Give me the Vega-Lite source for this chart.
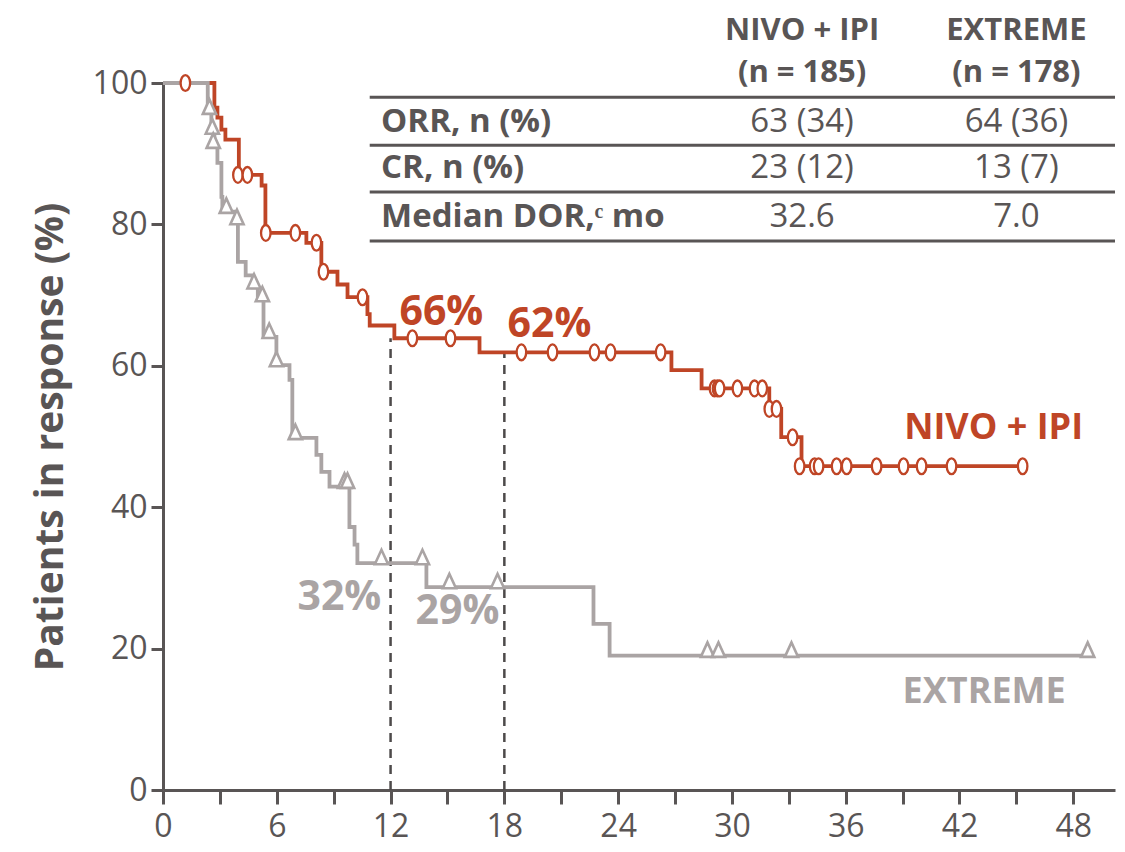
{
  "$schema": "https://vega.github.io/schema/vega-lite/v6.json",
  "width": 952,
  "height": 707,
  "autosize": {"type": "none"},
  "padding": {"left": 163, "top": 83, "right": 10, "bottom": 62},
  "background": "white",
  "config": {
    "font": "Open Sans",
    "view": {"stroke": null},
    "axis": {
      "grid": false,
      "domainColor": "#595555",
      "domainWidth": 3,
      "tickColor": "#595555",
      "tickWidth": 3,
      "labelColor": "#595555",
      "labelFontSize": 32,
      "labelFont": "Open Sans",
      "titleColor": "#595555",
      "titleFont": "Open Sans"
    }
  },
  "datasets": {
    "km": [
      {"arm": "NIVO + IPI", "t": 0, "s": 100},
      {"arm": "NIVO + IPI", "t": 2.71, "s": 96.5},
      {"arm": "NIVO + IPI", "t": 2.87, "s": 95.1},
      {"arm": "NIVO + IPI", "t": 3.08, "s": 93.4},
      {"arm": "NIVO + IPI", "t": 3.29, "s": 92.0},
      {"arm": "NIVO + IPI", "t": 4.0, "s": 87.0},
      {"arm": "NIVO + IPI", "t": 5.2, "s": 85.5},
      {"arm": "NIVO + IPI", "t": 5.4, "s": 78.8},
      {"arm": "NIVO + IPI", "t": 7.56, "s": 77.4},
      {"arm": "NIVO + IPI", "t": 8.35, "s": 73.3},
      {"arm": "NIVO + IPI", "t": 9.2, "s": 71.5},
      {"arm": "NIVO + IPI", "t": 9.73, "s": 69.7},
      {"arm": "NIVO + IPI", "t": 10.78, "s": 67.3},
      {"arm": "NIVO + IPI", "t": 10.9, "s": 65.7},
      {"arm": "NIVO + IPI", "t": 12.2, "s": 63.9},
      {"arm": "NIVO + IPI", "t": 16.69, "s": 61.9},
      {"arm": "NIVO + IPI", "t": 26.81, "s": 59.4},
      {"arm": "NIVO + IPI", "t": 28.4, "s": 56.8},
      {"arm": "NIVO + IPI", "t": 31.97, "s": 53.9},
      {"arm": "NIVO + IPI", "t": 32.6, "s": 49.9},
      {"arm": "NIVO + IPI", "t": 33.67, "s": 45.8},
      {"arm": "NIVO + IPI", "t": 45.33, "s": 45.8},
      {"arm": "EXTREME", "t": 0, "s": 100},
      {"arm": "EXTREME", "t": 2.36, "s": 95.8},
      {"arm": "EXTREME", "t": 2.55, "s": 93.0},
      {"arm": "EXTREME", "t": 2.71, "s": 91.0},
      {"arm": "EXTREME", "t": 2.87, "s": 88.7},
      {"arm": "EXTREME", "t": 3.08, "s": 83.9},
      {"arm": "EXTREME", "t": 3.13, "s": 81.8},
      {"arm": "EXTREME", "t": 3.84, "s": 80.2},
      {"arm": "EXTREME", "t": 3.95, "s": 74.7},
      {"arm": "EXTREME", "t": 4.36, "s": 72.8},
      {"arm": "EXTREME", "t": 4.73, "s": 71.1},
      {"arm": "EXTREME", "t": 5.0, "s": 69.3},
      {"arm": "EXTREME", "t": 5.3, "s": 64.1},
      {"arm": "EXTREME", "t": 5.98, "s": 60.1},
      {"arm": "EXTREME", "t": 6.67, "s": 58.0},
      {"arm": "EXTREME", "t": 6.82, "s": 49.8},
      {"arm": "EXTREME", "t": 8.09, "s": 47.4},
      {"arm": "EXTREME", "t": 8.35, "s": 45.0},
      {"arm": "EXTREME", "t": 8.78, "s": 42.9},
      {"arm": "EXTREME", "t": 9.83, "s": 37.2},
      {"arm": "EXTREME", "t": 10.1, "s": 34.7},
      {"arm": "EXTREME", "t": 10.25, "s": 32.1},
      {"arm": "EXTREME", "t": 13.89, "s": 28.7},
      {"arm": "EXTREME", "t": 22.7, "s": 23.5},
      {"arm": "EXTREME", "t": 23.55, "s": 19.0},
      {"arm": "EXTREME", "t": 48.76, "s": 19.0}
    ],
    "censorNivo": [
      {"t": 1.18, "s": 100}, {"t": 3.95, "s": 87.0}, {"t": 4.45, "s": 87.0},
      {"t": 5.42, "s": 78.8}, {"t": 6.98, "s": 78.8}, {"t": 8.09, "s": 77.4},
      {"t": 8.46, "s": 73.3}, {"t": 10.52, "s": 69.7}, {"t": 13.15, "s": 63.9},
      {"t": 15.16, "s": 63.9}, {"t": 18.9, "s": 61.9}, {"t": 20.54, "s": 61.9},
      {"t": 22.75, "s": 61.9}, {"t": 23.6, "s": 61.9}, {"t": 26.24, "s": 61.9},
      {"t": 29.08, "s": 56.8}, {"t": 29.24, "s": 56.8}, {"t": 29.35, "s": 56.8},
      {"t": 30.29, "s": 56.8}, {"t": 31.19, "s": 56.8}, {"t": 31.6, "s": 56.8},
      {"t": 31.97, "s": 53.9}, {"t": 32.35, "s": 53.9}, {"t": 33.2, "s": 49.9},
      {"t": 33.57, "s": 45.8}, {"t": 34.36, "s": 45.8}, {"t": 34.57, "s": 45.8},
      {"t": 35.52, "s": 45.8}, {"t": 36.05, "s": 45.8}, {"t": 37.63, "s": 45.8},
      {"t": 39.05, "s": 45.8}, {"t": 40.0, "s": 45.8}, {"t": 41.58, "s": 45.8},
      {"t": 45.33, "s": 45.8}
    ],
    "censorExtreme": [
      {"t": 2.45, "s": 95.8}, {"t": 2.6, "s": 93.0}, {"t": 2.65, "s": 91.0},
      {"t": 3.34, "s": 81.8}, {"t": 3.9, "s": 80.2}, {"t": 4.8, "s": 71.1},
      {"t": 5.24, "s": 69.3}, {"t": 5.6, "s": 64.1}, {"t": 5.98, "s": 60.1},
      {"t": 6.98, "s": 49.8}, {"t": 9.57, "s": 42.9}, {"t": 9.73, "s": 42.9},
      {"t": 11.52, "s": 32.1}, {"t": 13.68, "s": 32.1}, {"t": 15.1, "s": 28.7},
      {"t": 17.64, "s": 28.7}, {"t": 28.71, "s": 19.0}, {"t": 29.29, "s": 19.0},
      {"t": 33.14, "s": 19.0}, {"t": 48.76, "s": 19.0}
    ],
    "landmarks": [
      {"t": 12, "s": 0, "s2": 63.9},
      {"t": 18, "s": 0, "s2": 61.9}
    ],
    "labelsNivo": [
      {"t": 14.68, "s": 67.5, "text": "66%"},
      {"t": 20.38, "s": 65.8, "text": "62%"}
    ],
    "labelsExtreme": [
      {"t": 9.3, "s": 27.2, "text": "32%"},
      {"t": 15.53, "s": 25.2, "text": "29%"}
    ],
    "armNivo": [{"t": 43.8, "s": 51.2, "text": "NIVO + IPI"}],
    "armExtreme": [{"t": 43.3, "s": 13.9, "text": "EXTREME"}],
    "tableRules": [
      {"t": 10.9, "t2": 50.2, "s": 98.0},
      {"t": 10.9, "t2": 50.2, "s": 91.2},
      {"t": 10.9, "t2": 50.2, "s": 84.6},
      {"t": 10.9, "t2": 50.2, "s": 77.65}
    ],
    "tableHeader": [
      {"t": 33.7, "s": 107.4, "text": "NIVO + IPI"},
      {"t": 33.7, "s": 101.4, "text": "(n = 185)"},
      {"t": 45.0, "s": 107.4, "text": "EXTREME"},
      {"t": 45.0, "s": 101.4, "text": "(n = 178)"}
    ],
    "tableRowLabels": [
      {"t": 11.5, "s": 94.5, "text": "ORR, n (%)"},
      {"t": 11.5, "s": 88.0, "text": "CR, n (%)"},
      {"t": 11.5, "s": 81.0, "text": "Median DOR,ᶜ mo"}
    ],
    "tableValues": [
      {"t": 33.7, "s": 94.5, "text": "63 (34)"},
      {"t": 33.7, "s": 88.0, "text": "23 (12)"},
      {"t": 33.7, "s": 81.0, "text": "32.6"},
      {"t": 45.0, "s": 94.5, "text": "64 (36)"},
      {"t": 45.0, "s": 88.0, "text": "13 (7)"},
      {"t": 45.0, "s": 81.0, "text": "7.0"}
    ]
  },
  "encoding": {
    "x": {
      "field": "t",
      "type": "quantitative",
      "title": null,
      "scale": {"domain": [0, 50.2], "nice": false, "zero": false},
      "axis": {
        "values": [0, 3, 6, 9, 12, 15, 18, 21, 24, 27, 30, 33, 36, 39, 42, 45, 48],
        "labelExpr": "datum.value % 6 === 0 ? datum.label : ''",
        "tickSize": 14,
        "labelPadding": 7,
        "labelFlush": false,
        "labelOverlap": false
      }
    },
    "y": {
      "field": "s",
      "type": "quantitative",
      "title": "Patients in response (%)",
      "scale": {"domain": [0, 100], "nice": false},
      "axis": {
        "values": [0, 20, 40, 60, 80, 100],
        "tickSize": 12,
        "labelPadding": 4,
        "labelFlush": false,
        "labelOverlap": false,
        "titleFontSize": 39,
        "titleFontWeight": "bold",
        "titlePadding": 22
      }
    }
  },
  "layer": [
    {
      "data": {"name": "landmarks"},
      "mark": {"type": "rule", "color": "#4d4a4a", "strokeWidth": 2.5, "strokeDash": [9, 7]},
      "encoding": {"y2": {"field": "s2"}}
    },
    {
      "data": {"name": "tableRules"},
      "mark": {"type": "rule", "color": "#595555", "strokeWidth": 3, "clip": false},
      "encoding": {"x2": {"field": "t2"}}
    },
    {
      "data": {"name": "km"},
      "mark": {"type": "line", "interpolate": "step-after", "strokeWidth": 3.8},
      "encoding": {
        "color": {
          "field": "arm",
          "type": "nominal",
          "scale": {"domain": ["NIVO + IPI", "EXTREME"], "range": ["#bf4526", "#aaa4a4"]},
          "legend": null
        },
        "order": {"field": "t", "type": "quantitative"},
        "detail": {"field": "arm"}
      }
    },
    {
      "data": {"name": "censorExtreme"},
      "mark": {
        "type": "point",
        "shape": "M-0.55,0.1L0,-1.1L0.55,0.1Z",
        "size": 580,
        "fill": "white",
        "fillOpacity": 1,
        "stroke": "#aaa4a4",
        "strokeWidth": 2.6,
        "opacity": 1,
        "clip": false
      }
    },
    {
      "data": {"name": "censorNivo"},
      "mark": {
        "type": "point",
        "shape": "M0,-1A0.6,1 0 1,1 0,1A0.6,1 0 1,1 0,-1Z",
        "size": 250,
        "fill": "white",
        "fillOpacity": 1,
        "stroke": "#bf4526",
        "strokeWidth": 2.3,
        "opacity": 1,
        "clip": false
      }
    },
    {
      "data": {"name": "labelsNivo"},
      "mark": {"type": "text", "font": "Open Sans", "fontSize": 41, "fontWeight": "bold", "color": "#bf4526", "align": "center", "baseline": "middle"},
      "encoding": {"text": {"field": "text"}}
    },
    {
      "data": {"name": "labelsExtreme"},
      "mark": {"type": "text", "font": "Open Sans", "fontSize": 41, "fontWeight": "bold", "color": "#aaa4a4", "align": "center", "baseline": "middle"},
      "encoding": {"text": {"field": "text"}}
    },
    {
      "data": {"name": "armNivo"},
      "mark": {"type": "text", "font": "Open Sans", "fontSize": 36, "fontWeight": "bold", "color": "#bf4526", "align": "center", "baseline": "middle"},
      "encoding": {"text": {"field": "text"}}
    },
    {
      "data": {"name": "armExtreme"},
      "mark": {"type": "text", "font": "Open Sans", "fontSize": 36, "fontWeight": "bold", "color": "#aaa4a4", "align": "center", "baseline": "middle"},
      "encoding": {"text": {"field": "text"}}
    },
    {
      "data": {"name": "tableHeader"},
      "mark": {"type": "text", "font": "Open Sans", "fontSize": 31, "fontWeight": "bold", "color": "#595555", "align": "center", "baseline": "middle", "clip": false},
      "encoding": {"text": {"field": "text"}}
    },
    {
      "data": {"name": "tableRowLabels"},
      "mark": {"type": "text", "font": "Open Sans", "fontSize": 33, "fontWeight": "bold", "color": "#595555", "align": "left", "baseline": "middle"},
      "encoding": {"text": {"field": "text"}}
    },
    {
      "data": {"name": "tableValues"},
      "mark": {"type": "text", "font": "Open Sans", "fontSize": 33, "color": "#595555", "align": "center", "baseline": "middle"},
      "encoding": {"text": {"field": "text"}}
    }
  ]
}
